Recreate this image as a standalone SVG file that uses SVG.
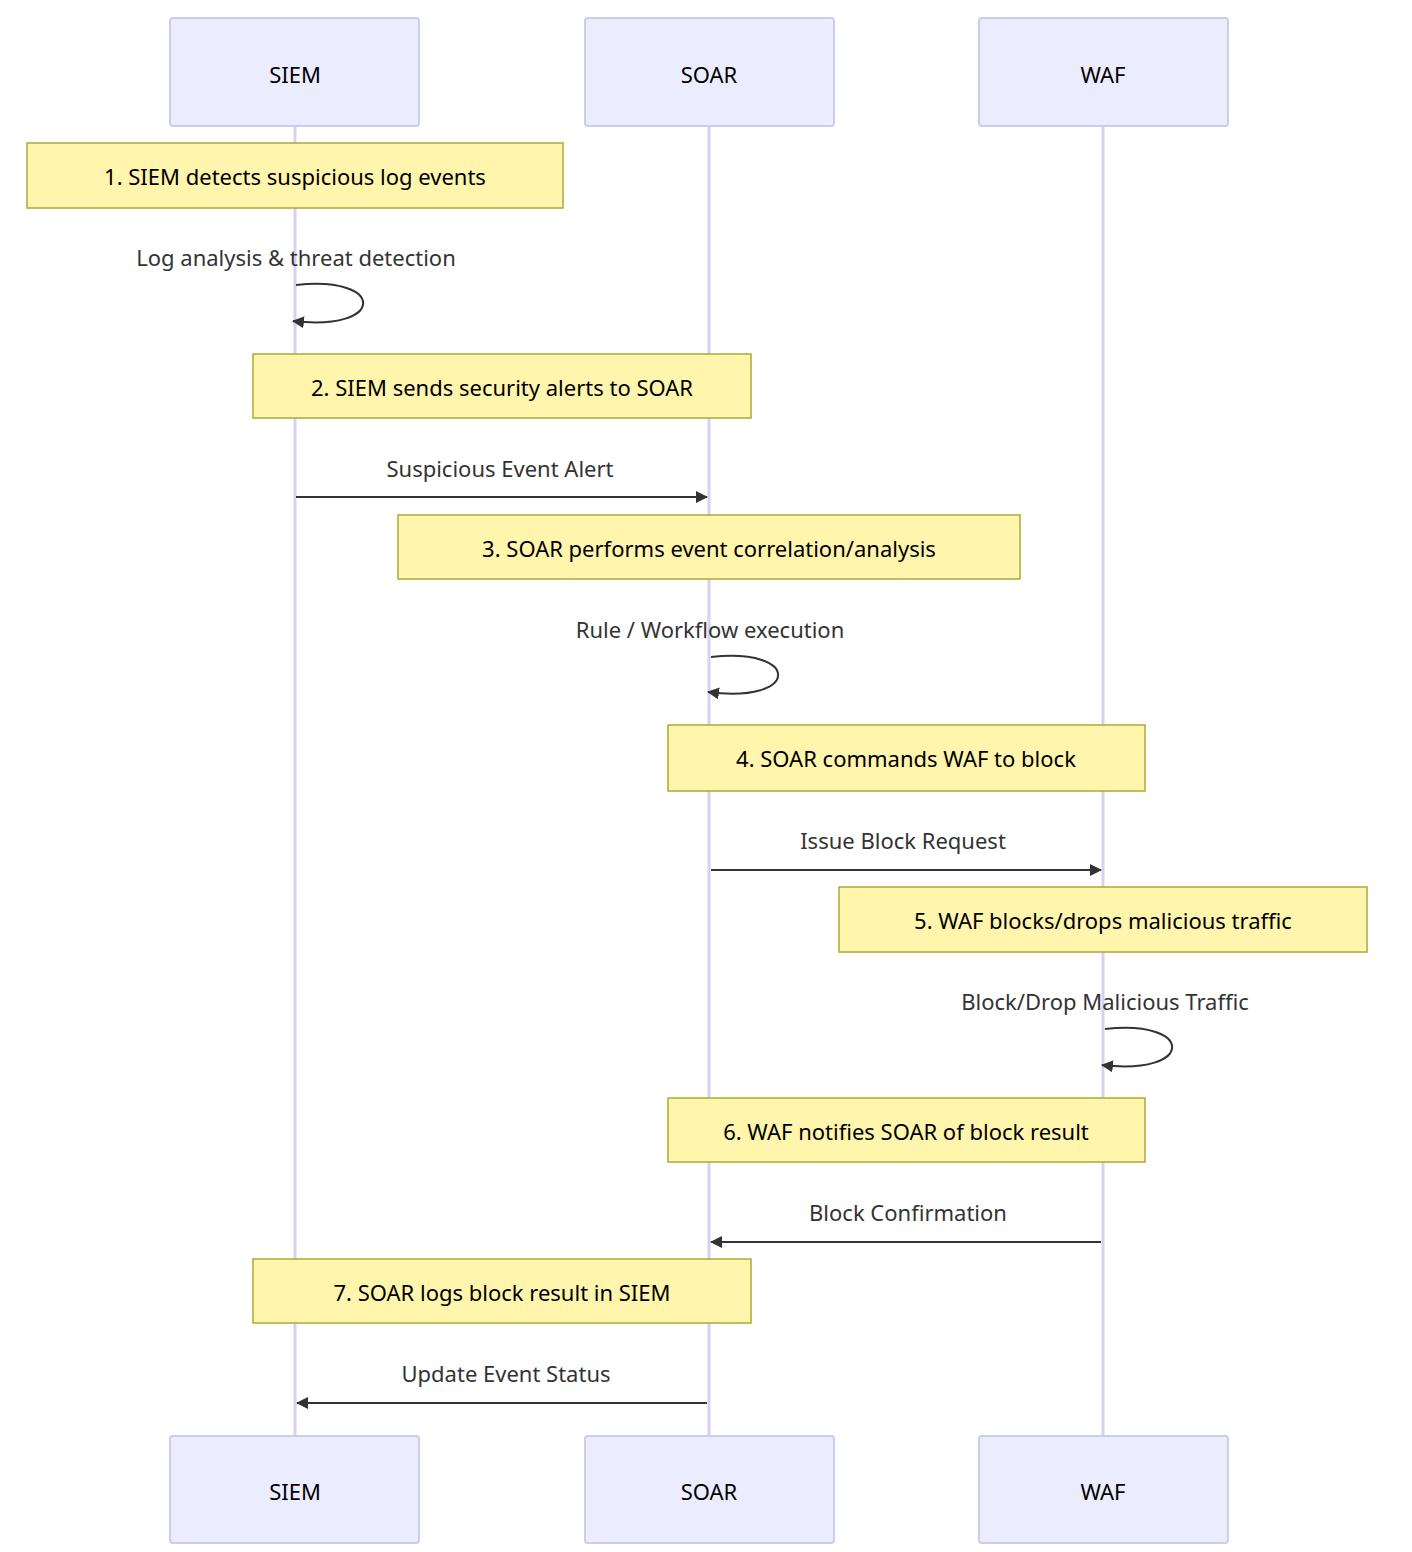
<svg xmlns="http://www.w3.org/2000/svg" width="1412" height="1552" viewBox="0 0 1412 1552">
<style>
.actor{fill:#ECECFF;stroke:#CCCCEE;stroke-width:2}
.at{font-family:"Noto Sans",sans-serif;font-size:22px;fill:#000;text-anchor:middle;dominant-baseline:central}
.life{stroke:#D8D0F0;stroke-width:3}
.note{fill:#FFF5AD;stroke:#AAAA33;stroke-width:1.5}
.nt{font-family:"Noto Sans",sans-serif;font-size:22px;fill:#000;text-anchor:middle;dominant-baseline:central}
.ml{font-family:"Noto Sans",sans-serif;font-size:22px;fill:#333;text-anchor:middle;dominant-baseline:central}
.msg{stroke:#333;stroke-width:2;fill:none}
</style>
<defs><marker id="ah" viewBox="0 0 12 12" refX="11" refY="6" markerWidth="12" markerHeight="12" markerUnits="userSpaceOnUse" orient="auto"><path d="M0,0 L12,6 L0,12 z" fill="#333"/></marker></defs>
<rect width="1412" height="1552" fill="#fff"/>
<g id="lifelines">
<line class="life" x1="295" y1="126" x2="295" y2="1436"/>
<line class="life" x1="709" y1="126" x2="709" y2="1436"/>
<line class="life" x1="1103" y1="126" x2="1103" y2="1436"/>
</g>
<g id="actor-siem"><rect class="actor" x="170" y="18" width="249" height="108" rx="3"/><text class="at" x="295" y="74">SIEM</text></g>
<g id="actor-soar"><rect class="actor" x="585" y="18" width="249" height="108" rx="3"/><text class="at" x="709" y="74">SOAR</text></g>
<g id="actor-waf"><rect class="actor" x="979" y="18" width="249" height="108" rx="3"/><text class="at" x="1103" y="74">WAF</text></g>
<g id="actor-siem-b"><rect class="actor" x="170" y="1436" width="249" height="107" rx="3"/><text class="at" x="295" y="1491">SIEM</text></g>
<g id="actor-soar-b"><rect class="actor" x="585" y="1436" width="249" height="107" rx="3"/><text class="at" x="709" y="1491">SOAR</text></g>
<g id="actor-waf-b"><rect class="actor" x="979" y="1436" width="249" height="107" rx="3"/><text class="at" x="1103" y="1491">WAF</text></g>
<g id="note1"><rect class="note" x="27" y="143" width="536" height="65"/><text class="nt" x="295" y="176">1. SIEM detects suspicious log events</text></g>
<g id="note2"><rect class="note" x="253" y="354" width="498" height="64"/><text class="nt" x="502" y="387">2. SIEM sends security alerts to SOAR</text></g>
<g id="note3"><rect class="note" x="398" y="515" width="622" height="64"/><text class="nt" x="709" y="548">3. SOAR performs event correlation/analysis</text></g>
<g id="note4"><rect class="note" x="668" y="725" width="477" height="66"/><text class="nt" x="906" y="758">4. SOAR commands WAF to block</text></g>
<g id="note5"><rect class="note" x="839" y="887" width="528" height="65"/><text class="nt" x="1103" y="920">5. WAF blocks/drops malicious traffic</text></g>
<g id="note6"><rect class="note" x="668" y="1098" width="477" height="64"/><text class="nt" x="906" y="1131">6. WAF notifies SOAR of block result</text></g>
<g id="note7"><rect class="note" x="253" y="1259" width="498" height="64"/><text class="nt" x="502" y="1292">7. SOAR logs block result in SIEM</text></g>
<g id="connectors">
<text class="ml" x="296" y="257">Log analysis &amp; threat detection</text>
<path class="msg" d="M296,285 C386,275 386,332 293,321" marker-end="url(#ah)"/>
<text class="ml" x="500" y="468">Suspicious Event Alert</text>
<line class="msg" x1="296" y1="497" x2="707" y2="497" marker-end="url(#ah)"/>
<text class="ml" x="710" y="629">Rule / Workflow execution</text>
<path class="msg" d="M711,657 C801,647 801,704 708,692" marker-end="url(#ah)"/>
<text class="ml" x="903" y="840">Issue Block Request</text>
<line class="msg" x1="711" y1="870" x2="1101" y2="870" marker-end="url(#ah)"/>
<text class="ml" x="1105" y="1001">Block/Drop Malicious Traffic</text>
<path class="msg" d="M1105,1029 C1195,1019 1195,1076 1102,1065" marker-end="url(#ah)"/>
<text class="ml" x="908" y="1212">Block Confirmation</text>
<line class="msg" x1="1101" y1="1242" x2="711" y2="1242" marker-end="url(#ah)"/>
<text class="ml" x="506" y="1373">Update Event Status</text>
<line class="msg" x1="707" y1="1403" x2="297" y2="1403" marker-end="url(#ah)"/>
</g>
</svg>
